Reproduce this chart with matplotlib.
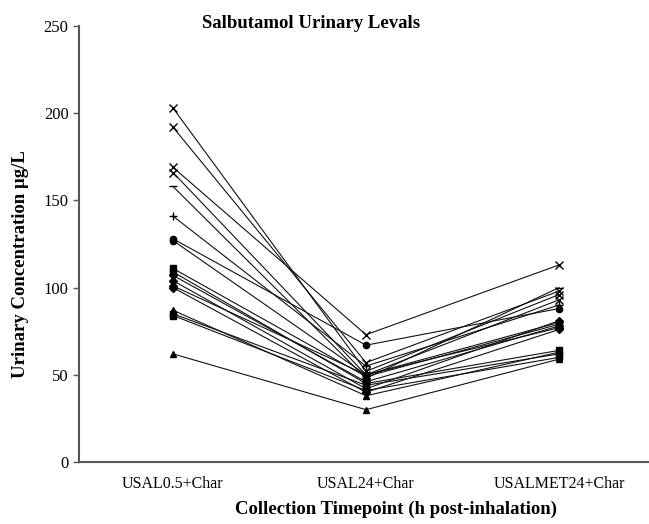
import matplotlib
matplotlib.use("Agg")
import matplotlib.pyplot as plt

categories = ["USAL0.5+Char", "USAL24+Char", "USALMET24+Char"]

# per-subject urinary salbutamol (µg/L) at the three timepoints
s01 = [203, 52, 96]
s02 = [192, 57, 98]
s03 = [169, 73, 113]
s04 = [166, 50, 93]
s05 = [158, 48, 100]
s06 = [141, 55, 90]
s07 = [128, 67, 88]
s08 = [127, 50, 80]
s09 = [111, 49, 79]
s10 = [109, 45, 64]
s11 = [107, 46, 78]
s12 = [104, 42, 81]
s13 = [101, 50, 77]
s14 = [100, 40, 76]
s15 = [87, 38, 63]
s16 = [85, 44, 62]
s17 = [84, 41, 60]
s18 = [62, 30, 59]

series = [s01, s02, s03, s04, s05, s06, s07, s08, s09,
          s10, s11, s12, s13, s14, s15, s16, s17, s18]
markers = ["x", "x", "x", "x", "_", "+", "o", "o", "s",
           "s", "D", "D", "D", "D", "^", "s", "s", "^"]

plt.rcParams["font.family"] = ["Liberation Serif", "DejaVu Serif"]

fig = plt.figure(figsize=(6.49, 5.24), dpi=100)
ax = fig.add_axes([0.1217, 0.1183, 0.8783, 0.832])

xs = [1, 2, 3]
for vals, m in zip(series, markers):
    ms = 5.5 if m in ("x", "+", "_") else 4.5
    ax.plot(xs, vals, color="#111111", lw=0.8, marker=m, ms=ms,
            mec="black", mfc="black", mew=1.0)

ax.set_xlim(0.513, 3.466)
ax.set_ylim(0, 250)
ax.set_yticks([0, 50, 100, 150, 200, 250])
ax.set_xticks(xs)
ax.set_xticklabels(categories, fontsize=11.5)
ax.tick_params(axis="y", labelsize=12, length=4, direction="out", color="#555555", width=1)
ax.tick_params(axis="x", length=0, pad=10)

for side in ("top", "right"):
    ax.spines[side].set_visible(False)
for side in ("left", "bottom"):
    ax.spines[side].set_color("#555555")
    ax.spines[side].set_linewidth(1.5)

fig.text(0.479, 0.956, "Salbutamol Urinary Levals", ha="center", va="center",
         fontsize=13.5, fontweight="bold")
fig.text(0.031, 0.496, "Urinary Concentration \u03bcg/L", ha="center", va="center",
         rotation=90, fontsize=13.5, fontweight="bold")
fig.text(0.61, 0.028, "Collection Timepoint (h post-inhalation)", ha="center", va="center",
         fontsize=13.5, fontweight="bold")

fig.savefig("out.png", dpi=100)
